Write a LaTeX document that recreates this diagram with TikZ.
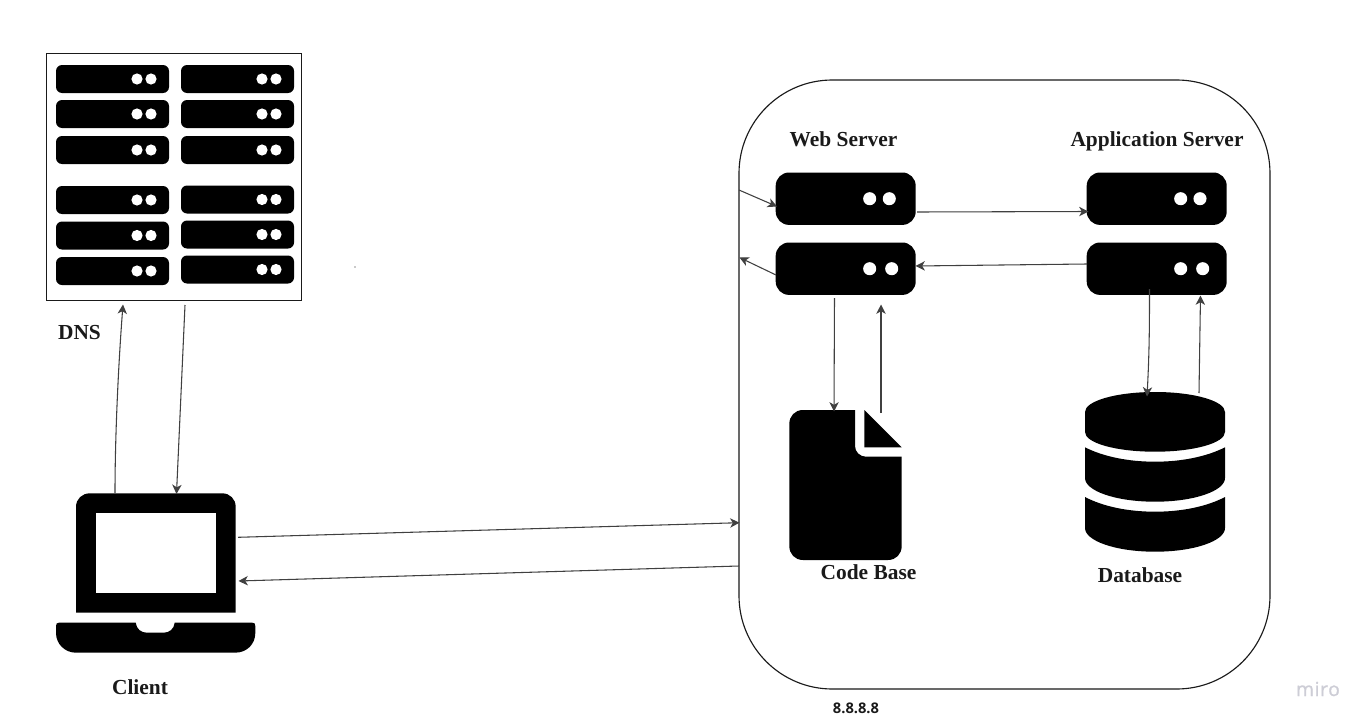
\documentclass[tikz,border=0pt]{standalone}
\usepackage{fontspec}
\setmainfont{Liberation Serif}
\newfontfamily\opensans{Open Sans}
\newfontfamily\miroface[FakeBold=0.8,LetterSpace=3]{Open Sans}
\usetikzlibrary{arrows.meta}
\definecolor{ink}{HTML}{1A1A1A}
\definecolor{wire}{HTML}{404040}
\definecolor{miro}{HTML}{CDCDD6}
\tikzset{
  bigsrv/.style={fill=black,inner sep=0pt,outer sep=0pt,rectangle,rounded corners=10pt,minimum width=105pt,minimum height=39.3pt},
  smallsrv/.style={fill=black,inner sep=0pt,outer sep=0pt,rectangle,rounded corners=4.5pt,minimum width=84.75pt,minimum height=21pt},
  leddot/.style={fill=white,draw=none},
  lbl/.style={font=\fontsize{16.05pt}{18pt}\selectfont\bfseries,text=ink,inner sep=0pt,anchor=base},
  wirearrow/.style={draw=wire,line width=0.8pt,-{Stealth[length=7pt,width=7pt,inset=2pt]}},
}
% name, centre x, centre y, dot 1 x, dot 2 x
\newcommand{\smallsrvat}[5]{%
  \node[smallsrv] (#1) at (#2,#3) {};
  \fill[leddot] (#4,#3) circle[radius=4.2pt];
  \fill[leddot] (#5,#3) circle[radius=4.2pt];}
\newcommand{\bigsrvat}[5]{%
  \node[bigsrv] (#1) at (#2,#3) {};
  \fill[leddot] (#4,#3) circle[radius=4.9pt];
  \fill[leddot] (#5,#3) circle[radius=4.9pt];}
\begin{document}
\begin{tikzpicture}[x=0.75pt,y=-0.75pt]
\useasboundingbox (0,0) rectangle (1372,728);
\fill[white] (0,0) rectangle (1372,728);

% DNS rack
\node[draw=ink,line width=0.75pt,fill=white,rectangle,inner sep=0pt,minimum width=191.25pt,minimum height=185.25pt] (rack) at (174,176.5) {};
\smallsrvat{d1}{112.5}{79}{137}{151}
\smallsrvat{d2}{112.5}{114}{137}{151}
\smallsrvat{d3}{112.5}{150}{137}{151}
\smallsrvat{d4}{112.5}{200}{137}{151}
\smallsrvat{d5}{112.5}{235.5}{137}{151}
\smallsrvat{d6}{112.5}{271}{137}{151}
\smallsrvat{d7}{237.5}{79}{262}{276}
\smallsrvat{d8}{237.5}{114}{262}{276}
\smallsrvat{d9}{237.5}{150}{262}{276}
\smallsrvat{d10}{237.5}{199.5}{262}{276}
\smallsrvat{d11}{237.5}{234.5}{262}{276}
\smallsrvat{d12}{237.5}{269.5}{262}{276}
\fill[ink] (355,267) circle[radius=0.5pt];

% data-centre outline
\draw[ink,line width=0.85pt,rounded corners=70pt] (739,80) rectangle (1270,689);

% servers
\bigsrvat{web1}{845.7}{198.7}{869.7}{889.3}
\bigsrvat{web2}{845.7}{268.7}{869.7}{891.7}
\bigsrvat{app1}{1156.7}{198.7}{1180.7}{1200}
\bigsrvat{app2}{1156.7}{268.7}{1180.7}{1202.7}

% code base document
\fill[black] (855,410) -- (803,410) .. controls (795,410) and (789.3,416) .. (789.3,424)
  -- (789.3,546) .. controls (789.3,554) and (795,560) .. (803,560)
  -- (888,560) .. controls (896,560) and (901.7,554) .. (901.7,546)
  -- (901.7,456.7) -- (866,456.7) .. controls (860,456.7) and (855,452) .. (855,446) -- cycle;
\fill[black] (864.3,410) -- (901.7,447.3) -- (864.3,447.3) -- cycle;

% database
\fill[black] (1085,412) .. controls (1085,401) and (1116,392) .. (1155,392)
  .. controls (1194,392) and (1225,401) .. (1225,412) -- (1225,432)
  .. controls (1225,443) and (1194,451.7) .. (1155,451.7)
  .. controls (1116,451.7) and (1085,443) .. (1085,432) -- cycle;
\fill[black] (1085,447.3) .. controls (1103,456.5) and (1128,461.7) .. (1155,461.7)
  .. controls (1182,461.7) and (1207,456.5) .. (1225,447.3) -- (1225,478)
  .. controls (1225,491) and (1194,501.7) .. (1155,501.7)
  .. controls (1116,501.7) and (1085,491) .. (1085,478) -- cycle;
\fill[black] (1085,497) .. controls (1103,506.5) and (1128,511.7) .. (1155,511.7)
  .. controls (1182,511.7) and (1207,506.5) .. (1225,497) -- (1225,528)
  .. controls (1225,541) and (1194,551.7) .. (1155,551.7)
  .. controls (1116,551.7) and (1085,541) .. (1085,528) -- cycle;

% laptop
\fill[black] (76,612.7) -- (76,507) .. controls (76,499) and (82,493.3) .. (90,493.3)
  -- (222,493.3) .. controls (230,493.3) and (235.7,499) .. (235.7,507)
  -- (235.7,612.7) -- cycle;
\fill[white] (96,512.7) rectangle (215.7,592.7);
\fill[black] (59,622.7) -- (135.7,622.7) .. controls (136.5,629) and (141,632.7) .. (147,632.7)
  -- (163.5,632.7) .. controls (169.5,632.7) and (174,629) .. (174.7,622.7)
  -- (252.3,622.7) .. controls (254.5,622.7) and (255.3,623.5) .. (255.3,626)
  -- (255.3,633) .. controls (255.3,644) and (247,652.7) .. (235,652.7)
  -- (76,652.7) .. controls (65,652.7) and (56,644) .. (56,633)
  -- (56,626) .. controls (56,623.5) and (57,622.7) .. (59,622.7) -- cycle;

% labels
\node[lbl] (lweb) at (843.5,146) {Web Server};
\node[lbl] (lapp) at (1157,146) {Application Server};
\node[lbl] (ldns) at (79.5,339) {DNS};
\node[lbl] (lcode) at (868.5,579) {Code Base};
\node[lbl] (ldb) at (1140,582) {Database};
\node[lbl] (lclient) at (140,694) {Client};
\node[font=\fontsize{11pt}{12pt}\selectfont\opensans\bfseries,text=ink,inner sep=0pt,anchor=base] (lip) at (856,713.5) {8.8.8.8};
\node[font=\fontsize{14.5pt}{16pt}\selectfont\miroface,text=miro,inner sep=0pt,anchor=base] (lmiro) at (1318,696) {miro};

% connector end points
\coordinate (c1s) at (115,493);   \coordinate (c1e) at (123,304.5);
\coordinate (c2s) at (185,305);   \coordinate (c2e) at (176.5,494);
\coordinate (c3s) at (238,537.3); \coordinate (c3e) at (739.5,522.7);
\coordinate (c4s) at (739,566);   \coordinate (c4e) at (238.5,581);
\coordinate (c5s) at (739,190);   \coordinate (c5e) at (777,206.5);
\coordinate (c6s) at (776,275);   \coordinate (c6e) at (739.5,257.5);
\coordinate (c7s) at (917,212);   \coordinate (c7e) at (1088.5,211.5);
\coordinate (c8s) at (1087,264);  \coordinate (c8e) at (915.5,266);
\coordinate (c9s) at (834.5,298); \coordinate (c9e) at (834,411.5);
\coordinate (c10s) at (881,413);  \coordinate (c10e) at (881,304.5);
\coordinate (c11s) at (1149.5,289); \coordinate (c11e) at (1147,396.5);
\coordinate (c12s) at (1199,393); \coordinate (c12e) at (1200.5,295.5);

\draw[wirearrow] (c1s) .. controls (115,440) and (118,370) .. (c1e);
\draw[wirearrow] (c2s) -- (c2e);
\draw[wirearrow] (c3s) -- (c3e);
\draw[wirearrow] (c4s) -- (c4e);
\draw[wirearrow] (c5s) -- (c5e);
\draw[wirearrow] (c6s) -- (c6e);
\draw[wirearrow] (c7s) -- (c7e);
\draw[wirearrow] (c8s) -- (c8e);
\draw[wirearrow] (c9s) -- (c9e);
\draw[wirearrow] (c10s) -- (c10e);
\draw[wirearrow] (c11s) .. controls (1149.5,320) and (1149.5,350) .. (c11e);
\draw[wirearrow] (c12s) -- (c12e);
\end{tikzpicture}
\end{document}
